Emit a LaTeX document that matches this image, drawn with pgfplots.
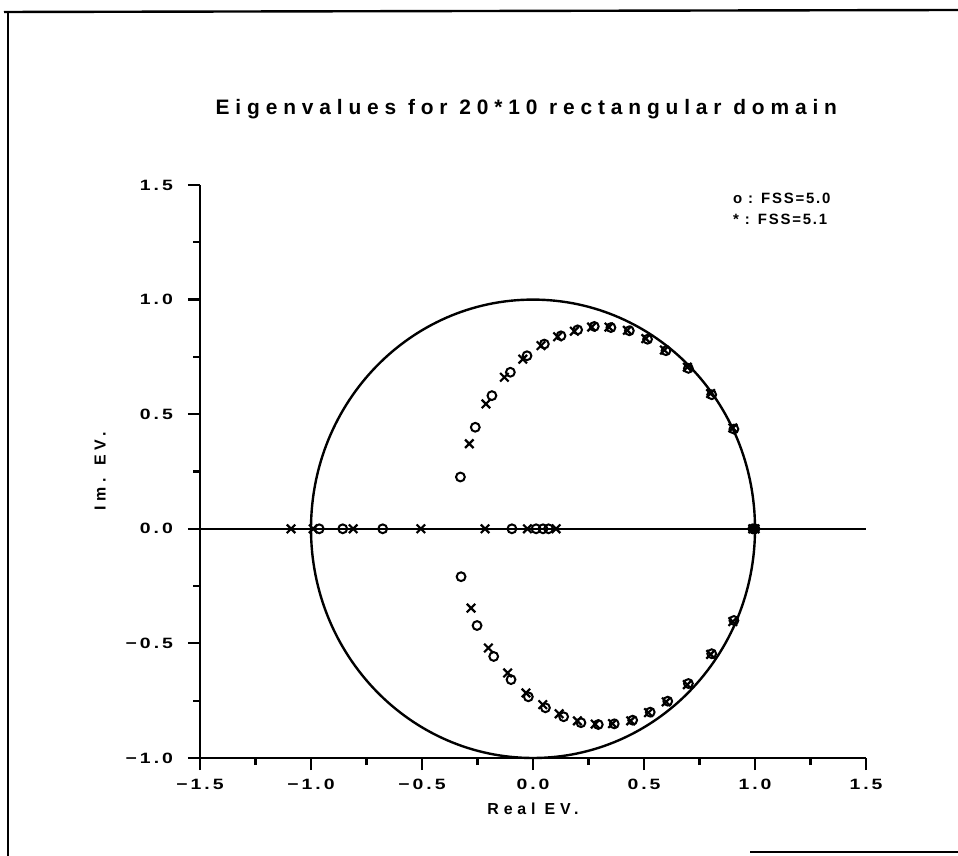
\documentclass[border=0pt]{standalone}
\usepackage{fontspec}
\setmainfont{Liberation Sans}[LetterSpace=12]
\newfontfamily\titlefont{Liberation Sans}[LetterSpace=28]
\newfontfamily\labelfont{Liberation Sans}[LetterSpace=30]
\newfontfamily\tickfont{Liberation Sans}[LetterSpace=20, FakeStretch=1.3]
\usepackage{pgfplots}
\pgfplotsset{compat=1.18}
\begin{document}
\begin{tikzpicture}
\useasboundingbox (0,0) rectangle (479bp,428bp);
\draw[line width=1.2bp] (2bp,422bp) -- (479bp,423bp);
\draw[line width=1.2bp] (4bp,422bp) -- (4bp,0bp);
\draw[line width=1.2bp] (375bp,2bp) -- (479bp,2bp);
\begin{axis}[
  at={(100bp,49bp)}, anchor=south west,
  scale only axis, width=333bp, height=286.5bp,
  xmin=-1.5, xmax=1.5, ymin=-1, ymax=1.5,
  axis x line*=bottom, axis y line*=left,
  axis line style={line width=1.3bp, -},
  xtick={-1.5,-1,-0.5,0,0.5,1,1.5}, ytick={-1,-0.5,0,0.5,1,1.5},
  xticklabels={−1.5,−1.0,−0.5,0.0,0.5,1.0,1.5},
  yticklabels={−1.0,−0.5,0.0,0.5,1.0,1.5},
  minor tick num=1,
  tick align=outside,
  major tick length=6bp, minor tick length=3.5bp,
  every tick/.style={line width=1.1bp, black},
  tick label style={font=\tickfont\bfseries\fontsize{7.5}{9}\selectfont},
  yticklabel style={xshift=-4bp},
  xticklabel style={yshift=-1bp},
  xlabel={Real EV.}, ylabel={Im. EV.},
  label style={font=\labelfont\bfseries\fontsize{8}{9}\selectfont},
  x label style={at={(axis description cs:0.5,-0.088)}, anchor=center},
  y label style={at={(axis description cs:-0.15,0.5)}, anchor=center},
  title={Eigenvalues for 20*10 rectangular domain},
  title style={at={(axis description cs:0.49,1)}, yshift=32bp, anchor=center, font=\titlefont\bfseries\fontsize{10.5}{12}\selectfont},
  clip=false,
]
\addplot[line width=1.2bp] coordinates {(-1.5,0) (1.5,0)};
\draw[line width=1.2bp] (axis cs:0,0) ellipse [x radius=1, y radius=1];
% FSS=5.0 (circles)
\addplot[only marks, mark=o, mark size=2.2bp, mark options={line width=1bp}] coordinates {
(-0.327,0.226) (-0.260,0.443) (-0.185,0.581) (-0.102,0.683) (-0.027,0.755)
(0.051,0.806) (0.126,0.842) (0.201,0.868) (0.276,0.883) (0.351,0.878)
(0.434,0.864) (0.516,0.827) (0.599,0.777) (0.700,0.700) (0.805,0.585) (0.905,0.435)
(-0.963,0) (-0.857,0) (-0.677,0) (-0.095,0) (0.014,0) (0.045,0) (0.070,0) (0.99,0) (1.0,0)
(-0.324,-0.209) (-0.252,-0.422) (-0.177,-0.557) (-0.099,-0.658) (-0.021,-0.733)
(0.056,-0.781) (0.138,-0.820) (0.216,-0.846) (0.294,-0.854) (0.366,-0.851)
(0.449,-0.835) (0.528,-0.800) (0.607,-0.752) (0.700,-0.675) (0.805,-0.545) (0.905,-0.400)
};
% FSS=5.1 (crosses)
\addplot[only marks, mark=x, mark size=3bp, mark options={line width=1.1bp}] coordinates {
(-0.287,0.371) (-0.212,0.545) (-0.129,0.661) (-0.046,0.740) (0.036,0.799)
(0.111,0.838) (0.186,0.862) (0.264,0.880) (0.342,0.880) (0.425,0.866)
(0.508,0.830) (0.592,0.780) (0.695,0.705) (0.800,0.590) (0.900,0.440)
(-1.09,0) (-0.99,0) (-0.81,0) (-0.505,0) (-0.216,0) (-0.025,0) (0.104,0) (0.99,0) (1.0,0)
(-0.279,-0.346) (-0.201,-0.520) (-0.114,-0.629) (-0.032,-0.716) (0.044,-0.767)
(0.118,-0.807) (0.200,-0.838) (0.280,-0.852) (0.358,-0.850) (0.440,-0.838)
(0.520,-0.802) (0.600,-0.755) (0.695,-0.680) (0.800,-0.548) (0.900,-0.405)
};
\node[anchor=west, font=\bfseries\fontsize{7.5}{9}\selectfont] at (axis cs:0.87,1.443) {o : FSS=5.0};
\node[anchor=west, font=\bfseries\fontsize{7.5}{9}\selectfont] at (axis cs:0.87,1.352) {* : FSS=5.1};
\end{axis}
\end{tikzpicture}
\end{document}
